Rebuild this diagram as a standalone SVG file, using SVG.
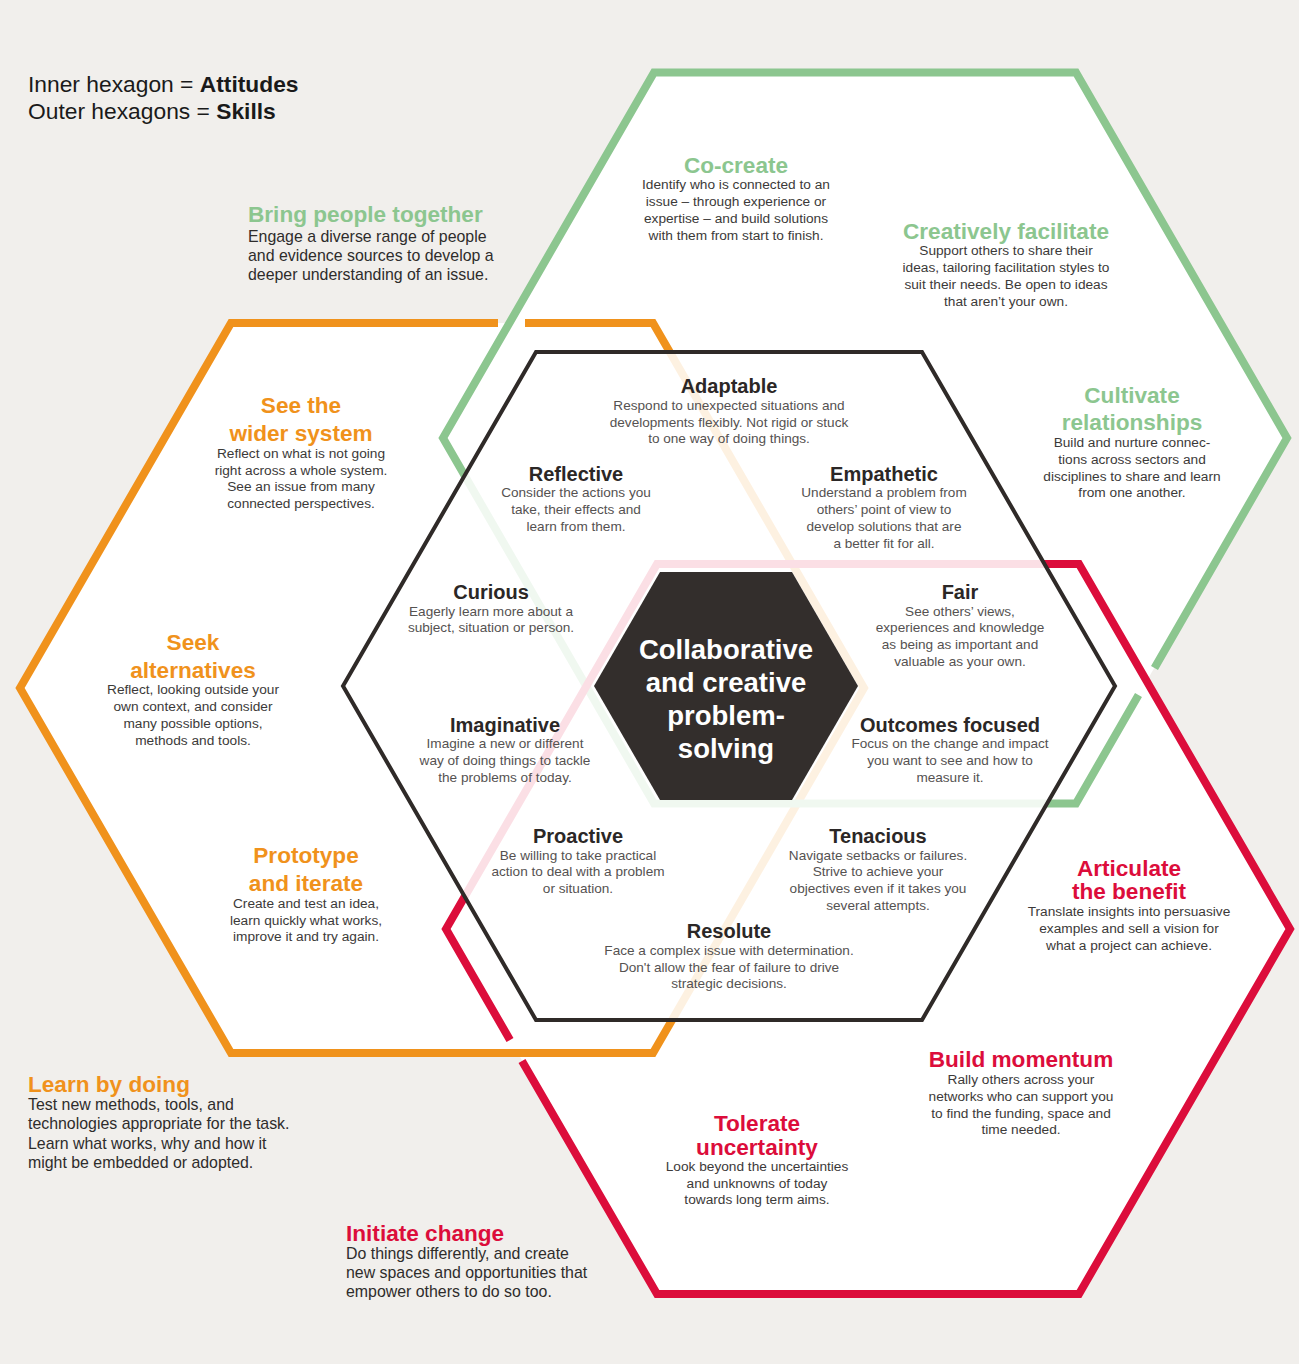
<svg xmlns="http://www.w3.org/2000/svg" width="1299" height="1364" viewBox="0 0 1299 1364">
<style>
text{font-family:"Liberation Sans",Arial,Helvetica,sans-serif;text-anchor:middle}
.lg{font-size:22.8px;fill:#1a1a1a;text-anchor:start}
.b{font-weight:bold}
.tg{font-size:22.6px;font-weight:bold;fill:#8cc68f}
.to{font-size:22.6px;font-weight:bold;fill:#f0921c}
.tr{font-size:22.6px;font-weight:bold;fill:#dc0d3b}
.ta{font-size:20px;font-weight:bold;fill:#2b2726}
.bd{font-size:13.7px;fill:#3c3a39}
.ba{font-size:13.6px;fill:#555251}
.bo{font-size:15.9px;fill:#2e2c2b;text-anchor:start}
.st{text-anchor:start}
.ctr{font-size:27.5px;font-weight:bold;fill:#ffffff}
.hf{fill:#ffffff;stroke:none}
.hs{fill:none;stroke-width:8;stroke-linejoin:miter;stroke-linecap:butt}
</style>
<rect width="1299" height="1364" fill="#f1efec"/>
<g id="hexagons">
  <g id="hex-fills">
    <polygon class="hf" points="864,688 653,1053 231,1053 20,688 231,323 653,323"/>
    <polygon class="hf" points="1287,438 1076,803.5 654,803.5 443,438 654,72.5 1076,72.5"/>
    <polygon class="hf" points="1290,929 1079,1294 657,1294 446,929 657,564 1079,564"/>
  </g>
  <path id="hex-orange" class="hs" stroke="#f0921c" d="M525,323 L653,323 L864,688 L653,1053 L231,1053 L20,688 L231,323 L498,323"/>
  <path id="hex-green" class="hs" stroke="#8cc68f" d="M1138.5,695 L1076,803.5 L654,803.5 L443,438 L654,72.5 L1076,72.5 L1287,438 L1154.5,668"/>
  <path id="hex-red" class="hs" stroke="#dc0d3b" d="M522,1061 L657,1294 L1079,1294 L1290,929 L1079,564 L657,564 L446,929 L510,1040"/>
  <polygon id="hex-inner" points="1115,686 922,1020 536,1020 343,686 536,352 922,352" fill="#ffffff" fill-opacity="0.87" stroke="#2f2a28" stroke-width="4" stroke-linejoin="miter"/>
</g>

<g id="legend">
  <text class="lg" x="28" y="92">Inner hexagon = <tspan class="b">Attitudes</tspan></text>
  <text class="lg" x="28" y="119">Outer hexagons = <tspan class="b">Skills</tspan></text>
</g>

<g id="core">
  <polygon points="858,686 792,800 660,800 594,686 660,572 792,572" fill="#332e2c"/>
  <text class="ctr" x="726" y="659">Collaborative</text>
  <text class="ctr" x="726" y="692">and creative</text>
  <text class="ctr" x="726" y="725">problem-</text>
  <text class="ctr" x="726" y="758">solving</text>
</g>

<g id="bring-people-together">
  <text class="tg st" x="248" y="222">Bring people together</text>
  <text class="bo" x="248" y="242">Engage a diverse range of people</text>
  <text class="bo" x="248" y="261">and evidence sources to develop a</text>
  <text class="bo" x="248" y="280">deeper understanding of an issue.</text>
</g>
<g id="co-create">
  <text class="tg" x="736" y="173">Co-create</text>
  <text class="bd" x="736" y="189">Identify who is connected to an</text>
  <text class="bd" x="736" y="206">issue – through experience or</text>
  <text class="bd" x="736" y="223">expertise – and build solutions</text>
  <text class="bd" x="736" y="240">with them from start to finish.</text>
</g>
<g id="creatively-facilitate">
  <text class="tg" x="1006" y="239">Creatively facilitate</text>
  <text class="bd" x="1006" y="255">Support others to share their</text>
  <text class="bd" x="1006" y="272">ideas, tailoring facilitation styles to</text>
  <text class="bd" x="1006" y="289">suit their needs. Be open to ideas</text>
  <text class="bd" x="1006" y="306">that aren’t your own.</text>
</g>
<g id="cultivate-relationships">
  <text class="tg" x="1132" y="403">Cultivate</text>
  <text class="tg" x="1132" y="430">relationships</text>
  <text class="bd" x="1132" y="447">Build and nurture connec-</text>
  <text class="bd" x="1132" y="464">tions across sectors and</text>
  <text class="bd" x="1132" y="481">disciplines to share and learn</text>
  <text class="bd" x="1132" y="497">from one another.</text>
</g>

<g id="see-the-wider-system">
  <text class="to" x="301" y="413">See the</text>
  <text class="to" x="301" y="441">wider system</text>
  <text class="bd" x="301" y="458">Reflect on what is not going</text>
  <text class="bd" x="301" y="475">right across a whole system.</text>
  <text class="bd" x="301" y="491">See an issue from many</text>
  <text class="bd" x="301" y="508">connected perspectives.</text>
</g>
<g id="seek-alternatives">
  <text class="to" x="193" y="650">Seek</text>
  <text class="to" x="193" y="678">alternatives</text>
  <text class="bd" x="193" y="694">Reflect, looking outside your</text>
  <text class="bd" x="193" y="711">own context, and consider</text>
  <text class="bd" x="193" y="728">many possible options,</text>
  <text class="bd" x="193" y="745">methods and tools.</text>
</g>
<g id="prototype-and-iterate">
  <text class="to" x="306" y="863">Prototype</text>
  <text class="to" x="306" y="891">and iterate</text>
  <text class="bd" x="306" y="908">Create and test an idea,</text>
  <text class="bd" x="306" y="925">learn quickly what works,</text>
  <text class="bd" x="306" y="941">improve it and try again.</text>
</g>
<g id="learn-by-doing">
  <text class="to st" x="28" y="1092">Learn by doing</text>
  <text class="bo" x="28" y="1110">Test new methods, tools, and</text>
  <text class="bo" x="28" y="1129">technologies appropriate for the task.</text>
  <text class="bo" x="28" y="1149">Learn what works, why and how it</text>
  <text class="bo" x="28" y="1168">might be embedded or adopted.</text>
</g>

<g id="articulate-the-benefit">
  <text class="tr" x="1129" y="876">Articulate</text>
  <text class="tr" x="1129" y="899">the benefit</text>
  <text class="bd" x="1129" y="916">Translate insights into persuasive</text>
  <text class="bd" x="1129" y="933">examples and sell a vision for</text>
  <text class="bd" x="1129" y="950">what a project can achieve.</text>
</g>
<g id="build-momentum">
  <text class="tr" x="1021" y="1067">Build momentum</text>
  <text class="bd" x="1021" y="1084">Rally others across your</text>
  <text class="bd" x="1021" y="1101">networks who can support you</text>
  <text class="bd" x="1021" y="1118">to find the funding, space and</text>
  <text class="bd" x="1021" y="1134">time needed.</text>
</g>
<g id="tolerate-uncertainty">
  <text class="tr" x="757" y="1131">Tolerate</text>
  <text class="tr" x="757" y="1155">uncertainty</text>
  <text class="bd" x="757" y="1171">Look beyond the uncertainties</text>
  <text class="bd" x="757" y="1188">and unknowns of today</text>
  <text class="bd" x="757" y="1204">towards long term aims.</text>
</g>
<g id="initiate-change">
  <text class="tr st" x="346" y="1241">Initiate change</text>
  <text class="bo" x="346" y="1259">Do things differently, and create</text>
  <text class="bo" x="346" y="1278">new spaces and opportunities that</text>
  <text class="bo" x="346" y="1297">empower others to do so too.</text>
</g>

<g id="adaptable">
  <text class="ta" x="729" y="393">Adaptable</text>
  <text class="ba" x="729" y="410">Respond to unexpected situations and</text>
  <text class="ba" x="729" y="427">developments flexibly. Not rigid or stuck</text>
  <text class="ba" x="729" y="443">to one way of doing things.</text>
</g>
<g id="reflective">
  <text class="ta" x="576" y="481">Reflective</text>
  <text class="ba" x="576" y="497">Consider the actions you</text>
  <text class="ba" x="576" y="514">take, their effects and</text>
  <text class="ba" x="576" y="531">learn from them.</text>
</g>
<g id="empathetic">
  <text class="ta" x="884" y="481">Empathetic</text>
  <text class="ba" x="884" y="497">Understand a problem from</text>
  <text class="ba" x="884" y="514">others’ point of view to</text>
  <text class="ba" x="884" y="531">develop solutions that are</text>
  <text class="ba" x="884" y="548">a better fit for all.</text>
</g>
<g id="curious">
  <text class="ta" x="491" y="599">Curious</text>
  <text class="ba" x="491" y="616">Eagerly learn more about a</text>
  <text class="ba" x="491" y="632">subject, situation or person.</text>
</g>
<g id="fair">
  <text class="ta" x="960" y="599">Fair</text>
  <text class="ba" x="960" y="616">See others’ views,</text>
  <text class="ba" x="960" y="632">experiences and knowledge</text>
  <text class="ba" x="960" y="649">as being as important and</text>
  <text class="ba" x="960" y="666">valuable as your own.</text>
</g>
<g id="imaginative">
  <text class="ta" x="505" y="732">Imaginative</text>
  <text class="ba" x="505" y="748">Imagine a new or different</text>
  <text class="ba" x="505" y="765">way of doing things to tackle</text>
  <text class="ba" x="505" y="782">the problems of today.</text>
</g>
<g id="outcomes-focused">
  <text class="ta" x="950" y="732">Outcomes focused</text>
  <text class="ba" x="950" y="748">Focus on the change and impact</text>
  <text class="ba" x="950" y="765">you want to see and how to</text>
  <text class="ba" x="950" y="782">measure it.</text>
</g>
<g id="proactive">
  <text class="ta" x="578" y="843">Proactive</text>
  <text class="ba" x="578" y="860">Be willing to take practical</text>
  <text class="ba" x="578" y="876">action to deal with a problem</text>
  <text class="ba" x="578" y="893">or situation.</text>
</g>
<g id="tenacious">
  <text class="ta" x="878" y="843">Tenacious</text>
  <text class="ba" x="878" y="860">Navigate setbacks or failures.</text>
  <text class="ba" x="878" y="876">Strive to achieve your</text>
  <text class="ba" x="878" y="893">objectives even if it takes you</text>
  <text class="ba" x="878" y="910">several attempts.</text>
</g>
<g id="resolute">
  <text class="ta" x="729" y="938">Resolute</text>
  <text class="ba" x="729" y="955">Face a complex issue with determination.</text>
  <text class="ba" x="729" y="972">Don't allow the fear of failure to drive</text>
  <text class="ba" x="729" y="988">strategic decisions.</text>
</g>
</svg>
